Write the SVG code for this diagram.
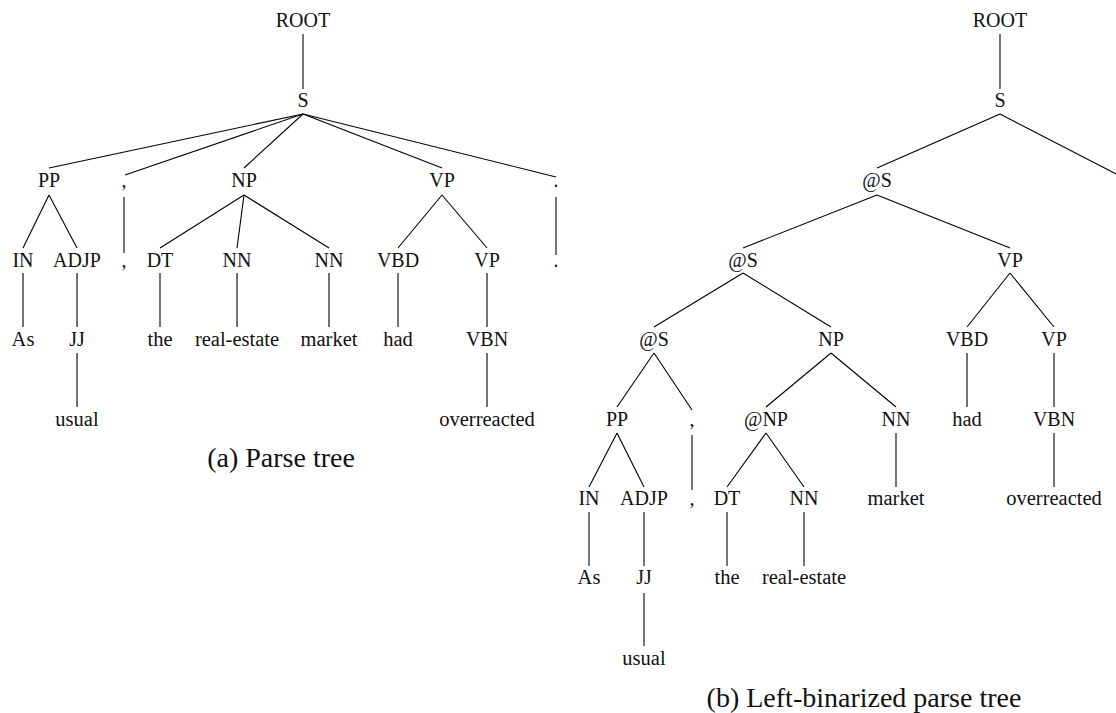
<svg xmlns="http://www.w3.org/2000/svg" width="1116" height="713" viewBox="0 0 1116 713">
<style>
text{font-family:"Liberation Serif","Times New Roman",serif;font-size:20px;fill:#111;text-anchor:middle}
.lf{font-size:20.5px}
.cap{font-size:28px}
#edges line{stroke:#000;stroke-width:1.1}
</style>
<rect width="1116" height="713" fill="#fff"/>
<g id="edges">
<!-- tree a -->
<line x1="303" y1="34" x2="303" y2="89"/>
<line x1="303" y1="114" x2="49" y2="168"/>
<line x1="303" y1="114" x2="125" y2="175"/>
<line x1="303" y1="114" x2="244" y2="168"/>
<line x1="303" y1="114" x2="442" y2="168"/>
<line x1="303" y1="114" x2="556" y2="177"/>
<line x1="49" y1="195" x2="23" y2="248"/>
<line x1="49" y1="195" x2="77" y2="248"/>
<line x1="124" y1="197" x2="124" y2="253"/>
<line x1="244" y1="195" x2="160" y2="248"/>
<line x1="244" y1="195" x2="237" y2="248"/>
<line x1="244" y1="195" x2="329" y2="248"/>
<line x1="442" y1="195" x2="398" y2="248"/>
<line x1="442" y1="195" x2="487" y2="248"/>
<line x1="556" y1="197" x2="556" y2="255"/>
<line x1="23" y1="273" x2="23" y2="327"/>
<line x1="77" y1="273" x2="77" y2="327"/>
<line x1="160" y1="273" x2="160" y2="327"/>
<line x1="237" y1="273" x2="237" y2="327"/>
<line x1="329" y1="273" x2="329" y2="327"/>
<line x1="398" y1="273" x2="398" y2="327"/>
<line x1="487" y1="273" x2="487" y2="327"/>
<line x1="77" y1="353" x2="77" y2="407"/>
<line x1="487" y1="353" x2="487" y2="407"/>
<!-- tree b -->
<line x1="1000" y1="34" x2="1000" y2="89"/>
<line x1="1000" y1="114" x2="877" y2="168"/>
<line x1="1000" y1="114" x2="1122" y2="177"/>
<line x1="877" y1="195" x2="743" y2="248"/>
<line x1="877" y1="195" x2="1010" y2="248"/>
<line x1="743" y1="273" x2="654" y2="327"/>
<line x1="743" y1="273" x2="831" y2="327"/>
<line x1="1010" y1="273" x2="967" y2="327"/>
<line x1="1010" y1="273" x2="1054" y2="327"/>
<line x1="654" y1="353" x2="617" y2="407"/>
<line x1="654" y1="353" x2="692" y2="410"/>
<line x1="831" y1="353" x2="766" y2="407"/>
<line x1="831" y1="353" x2="896" y2="407"/>
<line x1="967" y1="353" x2="967" y2="407"/>
<line x1="1054" y1="353" x2="1054" y2="407"/>
<line x1="617" y1="433" x2="589" y2="487"/>
<line x1="617" y1="433" x2="644" y2="487"/>
<line x1="692" y1="435" x2="692" y2="490"/>
<line x1="766" y1="433" x2="727" y2="487"/>
<line x1="766" y1="433" x2="804" y2="487"/>
<line x1="896" y1="433" x2="896" y2="487"/>
<line x1="1054" y1="433" x2="1054" y2="487"/>
<line x1="589" y1="512" x2="589" y2="566"/>
<line x1="644" y1="512" x2="644" y2="566"/>
<line x1="727" y1="512" x2="727" y2="566"/>
<line x1="804" y1="512" x2="804" y2="566"/>
<line x1="644" y1="593" x2="644" y2="646"/>
</g>
<g id="tree-a">
<g id="a-root"><text x="303" y="27">ROOT</text></g>
<g id="a-s"><text x="303" y="107">S</text></g>
<g id="a-pp"><text x="49" y="187">PP</text></g>
<g id="a-comma"><text x="124" y="187">,</text></g>
<g id="a-np"><text x="244" y="187">NP</text></g>
<g id="a-vp"><text x="442" y="187">VP</text></g>
<g id="a-period"><text x="556" y="187">.</text></g>
<g id="a-in"><text x="23" y="267">IN</text></g>
<g id="a-adjp"><text x="77" y="267">ADJP</text></g>
<g id="a-comma-w"><text x="124" y="267">,</text></g>
<g id="a-dt"><text x="160" y="267">DT</text></g>
<g id="a-nn1"><text x="237" y="267">NN</text></g>
<g id="a-nn2"><text x="329" y="267">NN</text></g>
<g id="a-vbd"><text x="398" y="267">VBD</text></g>
<g id="a-vp2"><text x="487" y="267">VP</text></g>
<g id="a-period-w"><text x="556" y="267">.</text></g>
<g id="a-as"><text class="lf" x="23" y="346">As</text></g>
<g id="a-jj"><text x="77" y="346">JJ</text></g>
<g id="a-the"><text class="lf" x="160" y="346">the</text></g>
<g id="a-realestate"><text class="lf" x="237" y="346">real-estate</text></g>
<g id="a-market"><text class="lf" x="329" y="346">market</text></g>
<g id="a-had"><text class="lf" x="398" y="346">had</text></g>
<g id="a-vbn"><text x="487" y="346">VBN</text></g>
<g id="a-usual"><text class="lf" x="77" y="426">usual</text></g>
<g id="a-overreacted"><text class="lf" x="487" y="426">overreacted</text></g>
<text class="cap" x="281" y="467">(a) Parse tree</text>
</g>
<g id="tree-b">
<g id="b-root"><text x="1000" y="27">ROOT</text></g>
<g id="b-s"><text x="1000" y="107">S</text></g>
<g id="b-as1"><text x="877" y="187">@S</text></g>
<g id="b-as2"><text x="743" y="267">@S</text></g>
<g id="b-vp"><text x="1010" y="267">VP</text></g>
<g id="b-as3"><text x="654" y="346">@S</text></g>
<g id="b-np"><text x="831" y="346">NP</text></g>
<g id="b-vbd"><text x="967" y="346">VBD</text></g>
<g id="b-vp2"><text x="1054" y="346">VP</text></g>
<g id="b-pp"><text x="617" y="426">PP</text></g>
<g id="b-comma"><text x="692" y="426">,</text></g>
<g id="b-anp"><text x="766" y="426">@NP</text></g>
<g id="b-nn"><text x="896" y="426">NN</text></g>
<g id="b-had"><text class="lf" x="967" y="426">had</text></g>
<g id="b-vbn"><text x="1054" y="426">VBN</text></g>
<g id="b-in"><text x="589" y="505">IN</text></g>
<g id="b-adjp"><text x="644" y="505">ADJP</text></g>
<g id="b-comma-w"><text x="692" y="505">,</text></g>
<g id="b-dt"><text x="727" y="505">DT</text></g>
<g id="b-nn2"><text x="804" y="505">NN</text></g>
<g id="b-market"><text class="lf" x="896" y="505">market</text></g>
<g id="b-overreacted"><text class="lf" x="1054" y="505">overreacted</text></g>
<g id="b-as"><text class="lf" x="589" y="584">As</text></g>
<g id="b-jj"><text x="644" y="584">JJ</text></g>
<g id="b-the"><text class="lf" x="727" y="584">the</text></g>
<g id="b-realestate"><text class="lf" x="804" y="584">real-estate</text></g>
<g id="b-usual"><text class="lf" x="644" y="665">usual</text></g>
<text class="cap" x="864" y="707">(b) Left-binarized parse tree</text>
</g>
</svg>
